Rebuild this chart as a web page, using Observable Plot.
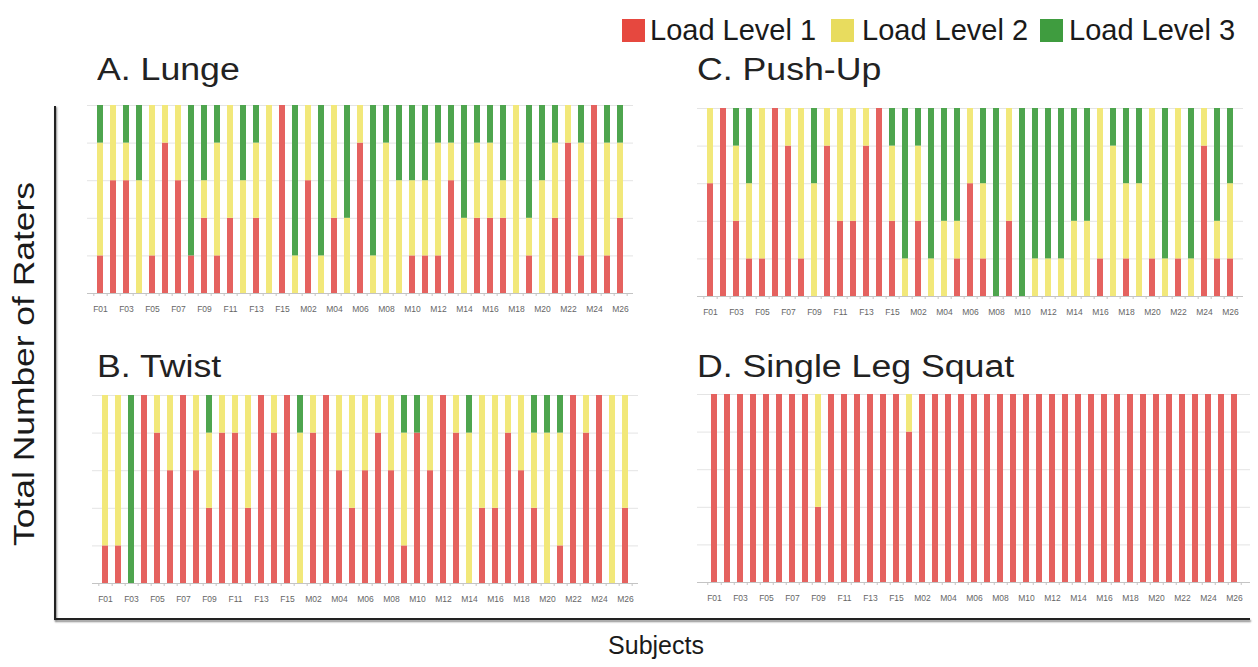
<!DOCTYPE html>
<html>
<head>
<meta charset="utf-8">
<script src="https://cdn.jsdelivr.net/npm/d3@7"></script>
<script src="https://cdn.jsdelivr.net/npm/@observablehq/plot@0.6"></script>
<style>
  html, body { margin: 0; padding: 0; background: #fff; }
  #root { position: relative; width: 1258px; height: 667px; overflow: hidden; font-family: "Liberation Sans", Arial, sans-serif; color: #1a1a1a; }
  .abs { position: absolute; }
  .title { position: absolute; font-size: 31px; line-height: 1; white-space: nowrap; transform: scaleX(1.15); transform-origin: left top; color: #222; }
  .leg-sw { position: absolute; width: 23px; height: 23px; }
  .leg-tx { position: absolute; font-size: 29px; line-height: 1; white-space: nowrap; color: #1a1a1a; }
</style>
</head>
<body>
<div id="root"></div>
<script>
// ---- Data ----
const subjects = ["F01","F02","F03","F04","F05","F06","F07","F08","F09","F10","F11","F12","F13","F14","F15",
  "M01","M02","M03","M04","M05","M06","M07","M08","M09","M10","M11","M12","M13","M14","M15","M16","M17","M18","M19","M20","M21","M22","M23","M24","M25","M26"];
const tickLabels = subjects.filter((d, i) => i % 2 === 0);
const levels = ["Load Level 1", "Load Level 2", "Load Level 3"];
const levelColors = ["#e5625f", "#f2e87a", "#4ea54e"];
const legendColors = ["#e6483f", "#e8dc5e", "#3f9c3f"];

// A. Lunge
const lungeL1 = [1,3,3,0,1,4,3,1,2,1,2,0,2,0,5,0,3,0,2,0,4,0,0,0,1,1,1,3,0,2,2,2,0,1,0,2,4,1,5,1,2];
const lungeL2 = [3,2,1,3,4,1,2,0,1,3,3,3,2,5,0,1,2,1,3,2,1,1,4,3,2,2,3,1,2,2,2,1,5,1,3,2,1,3,0,3,2];
const lungeL3 = [1,0,1,2,0,0,0,4,2,1,0,2,1,0,0,4,0,4,0,3,0,4,1,2,2,2,1,1,3,1,1,2,0,3,2,1,0,1,0,1,1];
// C. Push-Up
const pushL1 = [3,5,2,1,1,5,4,1,0,4,2,2,4,5,2,0,2,0,0,1,3,1,0,2,0,0,0,0,0,0,1,0,1,0,1,0,1,0,4,1,1];
const pushL2 = [2,0,2,2,4,0,1,4,3,1,3,3,1,0,2,1,2,1,2,1,2,2,0,3,0,1,1,1,2,2,4,4,2,3,4,1,4,1,1,1,2];
const pushL3 = [0,0,1,2,0,0,0,0,2,0,0,0,0,0,1,4,1,4,3,3,0,2,5,0,5,4,4,4,3,3,0,1,2,2,0,4,0,4,0,3,2];
// B. Twist
const twistL1 = [1,1,0,5,4,3,5,3,2,4,4,2,5,4,5,0,4,5,3,2,3,4,3,1,4,3,5,4,0,2,2,4,3,2,0,1,5,4,5,0,2];
const twistL2 = [4,4,0,0,1,2,0,2,2,1,1,3,0,1,0,4,1,0,2,3,2,1,2,3,0,2,0,1,4,3,3,1,2,2,4,3,0,1,0,5,3];
const twistL3 = [0,0,5,0,0,0,0,0,1,0,0,0,0,0,0,1,0,0,0,0,0,0,0,1,1,0,0,0,1,0,0,0,0,1,1,1,0,0,0,0,0];
// D. Single Leg Squat
const squatL1 = [5,5,5,5,5,5,5,5,2,5,5,5,5,5,5,4,5,5,5,5,5,5,5,5,5,5,5,5,5,5,5,5,5,5,5,5,5,5,5,5,5];
const squatL2 = [0,0,0,0,0,0,0,0,3,0,0,0,0,0,0,1,0,0,0,0,0,0,0,0,0,0,0,0,0,0,0,0,0,0,0,0,0,0,0,0,0];
const squatL3 = [0,0,0,0,0,0,0,0,0,0,0,0,0,0,0,0,0,0,0,0,0,0,0,0,0,0,0,0,0,0,0,0,0,0,0,0,0,0,0,0,0];

const titles = ["A. Lunge", "C. Push-Up", "B. Twist", "D. Single Leg Squat"];

// ---- Build ----
const root = document.getElementById("root");

function panel(l1, l2, l3, width) {
  const rows = [];
  subjects.forEach((s, i) => {
    rows.push({subject: s, level: levels[0], count: l1[i]});
    rows.push({subject: s, level: levels[1], count: l2[i]});
    rows.push({subject: s, level: levels[2], count: l3[i]});
  });
  const mL = 10, mR = 10;
  const step = (width - mL - mR) / subjects.length;
  return Plot.plot({
    width, height: 218,
    marginLeft: mL, marginRight: mR, marginTop: 5, marginBottom: 25,
    style: {fontFamily: "'Liberation Sans', Arial, sans-serif", fontSize: "8.5px", background: "transparent", color: "#666"},
    x: {domain: subjects, paddingInner: 0.55, paddingOuter: 0.275, axis: null, label: null},
    y: {domain: [0, 5], axis: null, label: null},
    color: {domain: levels, range: levelColors},
    marks: [
      Plot.ruleY([1, 2, 3, 4, 5], {stroke: "#e4e4e4", strokeWidth: 1}),
      Plot.barY(rows, {x: "subject", y: "count", fill: "level"}),
      Plot.ruleY([0], {stroke: "#c4c4c4"}),
      Plot.ruleX(subjects, {x: d => d, y1: 0, y2: -0.08, dx: step / 2, stroke: "#c4c4c4"}),
      Plot.ruleX([subjects[0]], {x: d => d, y1: 0, y2: -0.08, dx: -step / 2, stroke: "#c4c4c4"}),
      Plot.axisX({ticks: tickLabels, tickSize: 0, tickPadding: 12, fontSize: 8.5, fill: "#666", label: null})
    ]
  });
}

function place(el, left, top) {
  el.style.position = "absolute";
  el.style.left = left + "px";
  el.style.top = top + "px";
  root.appendChild(el);
}

place(panel(lungeL1, lungeL2, lungeL3, 566), 76.7, 100);
place(panel(pushL1, pushL2, pushL3, 566), 686.7, 102.7);
place(panel(twistL1, twistL2, twistL3, 566), 81.7, 390);
place(panel(squatL1, squatL2, squatL3, 573), 686.6, 389);

// Titles
const titlePos = [[97, 54], [697, 54], [97, 351], [697, 351]];
titles.forEach((t, i) => {
  const d = document.createElement("div");
  d.className = "title";
  d.textContent = t;
  d.style.left = titlePos[i][0] + "px";
  d.style.top = titlePos[i][1] + "px";
  root.appendChild(d);
});

// Legend
const legX = [[622, 650], [831, 862], [1040, 1069]];
levels.forEach((l, i) => {
  const sw = document.createElement("div");
  sw.className = "leg-sw";
  sw.style.left = legX[i][0] + "px";
  sw.style.top = "19px";
  sw.style.background = legendColors[i];
  root.appendChild(sw);
  const tx = document.createElement("div");
  tx.className = "leg-tx";
  tx.textContent = l;
  tx.style.left = legX[i][1] + "px";
  tx.style.top = "15.5px";
  root.appendChild(tx);
});

// Frame (L-shaped)
const vline = document.createElement("div");
vline.className = "abs";
Object.assign(vline.style, {left: "54px", top: "106px", width: "2px", height: "514px", background: "#222", boxShadow: "1px 1px 2px #888"});
root.appendChild(vline);
const hline = document.createElement("div");
hline.className = "abs";
Object.assign(hline.style, {left: "54px", top: "618px", width: "1196px", height: "2px", background: "#222", boxShadow: "1px 2px 2px #888"});
root.appendChild(hline);

// Axis titles
const ylab = document.createElement("div");
ylab.className = "abs";
ylab.textContent = "Total Number of Raters";
Object.assign(ylab.style, {left: "24px", top: "363.5px", fontSize: "29px", lineHeight: "1", whiteSpace: "nowrap",
  transform: "translate(-50%,-50%) rotate(-90deg) scaleX(1.22)", color: "#1a1a1a"});
root.appendChild(ylab);

const xlab = document.createElement("div");
xlab.className = "abs";
xlab.textContent = "Subjects";
Object.assign(xlab.style, {left: "656px", top: "645px", fontSize: "25px", lineHeight: "1", whiteSpace: "nowrap",
  transform: "translate(-50%,-50%)", color: "#1a1a1a"});
root.appendChild(xlab);
</script>
</body>
</html>
